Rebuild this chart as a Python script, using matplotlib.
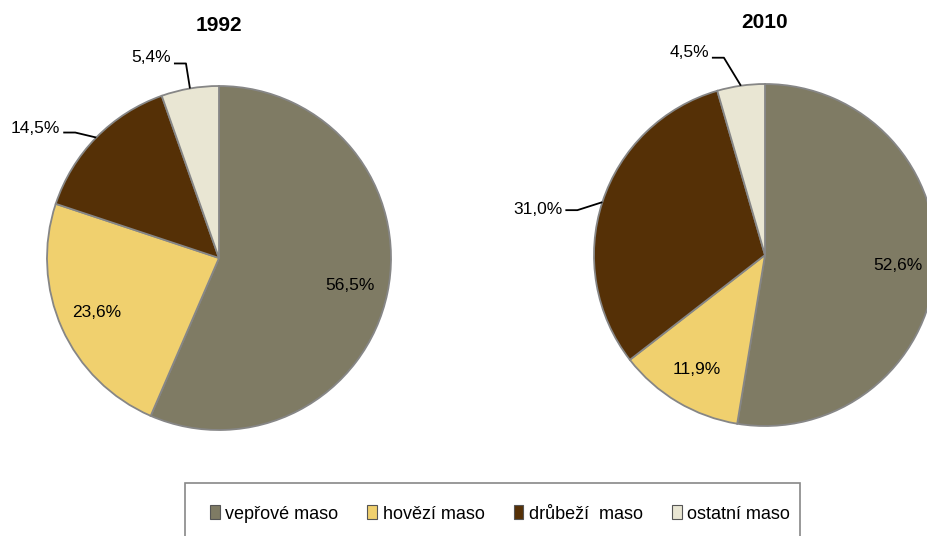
import numpy as np
import matplotlib.pyplot as plt
from matplotlib.patches import Patch, Rectangle

plt.rcParams['font.family'] = ['Liberation Sans', 'DejaVu Sans']

categories = ['vepřové maso', 'hovězí maso', 'drůbeží  maso', 'ostatní maso']
colors = ['#7f7b64', '#f0d06e', '#553006', '#e9e6d3']
years = ['1992', '2010']
values_1992 = [56.5, 23.6, 14.5, 5.4]
values_2010 = [52.6, 11.9, 31.0, 4.5]

W, H = 928, 536
fig = plt.figure(figsize=(W / 100, H / 100), dpi=100)
ax = fig.add_axes([0, 0, 1, 1])
ax.set_xlim(0, W)
ax.set_ylim(0, H)
ax.set_aspect('equal')
ax.axis('off')

# pie layout in pixel coords (y up)
pies = [
    dict(vals=values_1992, center=(219, H - 258), r=172, title=(219, H - 25),
         # index: (text dx, dy from edge point, line y offset)
         outside={3: (-19, 31, 25), 2: (-36, 9, 5)}),
    dict(vals=values_2010, center=(765, H - 255), r=171, title=(765, H - 22),
         outside={3: (-32, 33, 28), 2: (-40, -7, -8)}),
]

for year, p in zip(years, pies):
    vals = p['vals']
    cx, cy = p['center']
    R = p['r']
    ax.pie(vals, colors=colors, startangle=90, counterclock=False,
           center=(cx, cy), radius=R, frame=True,
           wedgeprops=dict(edgecolor='#868686', linewidth=1.3))
    ax.text(p['title'][0], p['title'][1], year, ha='center', va='center',
            fontsize=15, fontweight='bold')
    cum = np.cumsum([0] + vals[:-1])
    for i, v in enumerate(vals):
        mid = np.deg2rad(90 - (cum[i] + v / 2) / 100 * 360)
        label = f'{v:.1f}'.replace('.', ',') + '%'
        if i in p['outside']:
            dx, dy, ly = p['outside'][i]
            ex, ey = cx + R * np.cos(mid), cy + R * np.sin(mid)
            tx, ty = ex + dx, ey + dy
            ax.text(tx, ty, label, ha='right', va='center', fontsize=12.5)
            ax.plot([tx + 3, tx + 15, ex], [ey + ly, ey + ly, ey],
                    color='black', lw=1.3, solid_capstyle='butt')
        else:
            rr = 0.78 * R
            ax.text(cx + rr * np.cos(mid), cy + rr * np.sin(mid), label,
                    ha='center', va='center', fontsize=12.5)

ax.set_xlim(0, W)
ax.set_ylim(0, H)

# legend box
ax.add_patch(Rectangle((185, -20), 615, H - 483 + 20, facecolor='white',
                       edgecolor='#888888', lw=1.2, zorder=3))
handles = [Patch(facecolor=c, edgecolor='#555555', lw=0.8) for c in colors]
fig.legend(handles, categories, loc='center', bbox_to_anchor=(500 / W, 1 - 514 / H),
           ncol=4, frameon=False, fontsize=13, handlelength=0.55, handleheight=0.8,
           handletextpad=0.3, columnspacing=1.6)

fig.savefig('out.png', dpi=100)
